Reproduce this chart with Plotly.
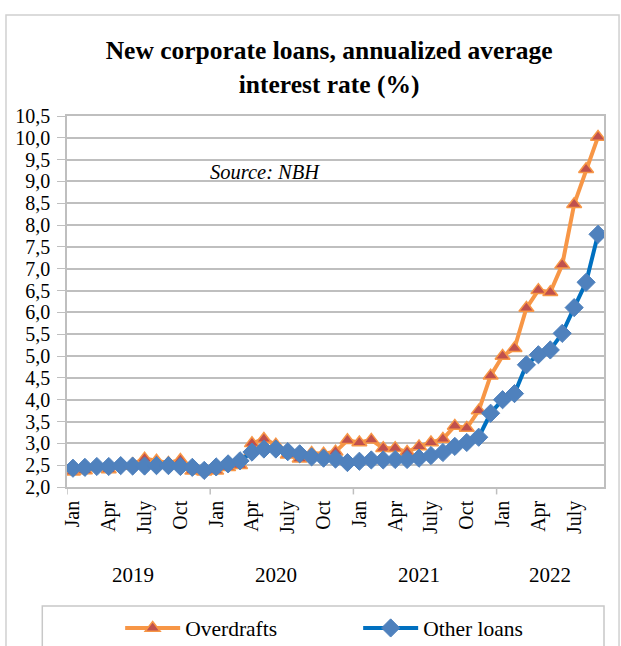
import plotly.graph_objects as go

# Monthly observations, Jan 2019 - Sep 2022
years = [2019, 2020, 2021, 2022]
month_names = ["Jan", "Feb", "Mar", "Apr", "May", "Jun",
               "Jul", "Aug", "Sep", "Oct", "Nov", "Dec"]
months_2022 = 9

overdrafts = [
    2.35, 2.38, 2.45, 2.40, 2.48, 2.52, 2.65, 2.60, 2.55, 2.62, 2.37, 2.35,
    2.37, 2.45, 2.50, 3.00, 3.10, 2.97, 2.74, 2.65, 2.78, 2.76, 2.81, 3.07,
    3.02, 3.08, 2.89, 2.89, 2.80, 2.93, 3.02, 3.10, 3.40, 3.35, 3.75, 4.55,
    5.00, 5.18, 6.10, 6.51, 6.46, 7.09, 8.48, 9.28, 10.02,
]
other_loans = [
    2.43, 2.45, 2.47, 2.47, 2.49, 2.48, 2.48, 2.49, 2.49, 2.47, 2.45, 2.38,
    2.46, 2.53, 2.60, 2.80, 2.87, 2.87, 2.81, 2.76, 2.69, 2.66, 2.64, 2.56,
    2.59, 2.62, 2.62, 2.63, 2.63, 2.66, 2.72, 2.79, 2.93, 3.02, 3.14, 3.69,
    4.00, 4.14, 4.80, 5.03, 5.14, 5.52, 6.11, 6.69, 7.79,
]

# Quarter-month labels shown on the axis
quarter_labels = {"Jan": "Jan", "Apr": "Apr", "Jul": "July", "Oct": "Oct"}

periods = []
for y in years:
    n = months_2022 if y == 2022 else 12
    for m in month_names[:n]:
        periods.append((y, m))
x_idx = list(range(len(periods)))

tickvals = [i for i, (_, m) in enumerate(periods) if m in quarter_labels]
ticktext = [quarter_labels[periods[i][1]] for i in tickvals]

FONT = "Liberation Serif, Times New Roman, serif"
ORANGE = "#F79646"
RED = "#C0504D"
BLUE_LINE = "#0070C0"
BLUE_MARK = "#4F81BD"
GRID = "#BFBFBF"

fig = go.Figure()
fig.add_trace(go.Scatter(
    x=x_idx, y=overdrafts, name="Overdrafts", mode="lines+markers",
    line=dict(color=ORANGE, width=4),
    marker=dict(symbol="triangle-up", size=13, color=RED,
                line=dict(color=ORANGE, width=1.5)),
))
fig.add_trace(go.Scatter(
    x=x_idx, y=other_loans, name="Other loans", mode="lines+markers",
    line=dict(color=BLUE_LINE, width=4),
    marker=dict(symbol="diamond", size=14, color=BLUE_MARK,
                line=dict(color=BLUE_MARK, width=1)),
))

# Year boundaries and year captions under the month labels
first_idx = {}
for i, (y, _) in enumerate(periods):
    first_idx.setdefault(y, i)
shapes = []
for y in years:
    b = first_idx[y] - 0.5
    shapes.append(dict(type="line", xref="x", yref="paper", x0=b, x1=b,
                       y0=0, y1=-0.02, line=dict(color=GRID, width=1.5)))
annotations = []
for y in years:
    idxs = [i for i, (yy, _) in enumerate(periods) if yy == y]
    centre = (idxs[0] + min(idxs[-1], idxs[0] + 10)) / 2
    annotations.append(dict(x=centre, y=-0.237, xref="x", yref="paper",
                            yanchor="middle", text=str(y), showarrow=False,
                            font=dict(family=FONT, size=21, color="#000000")))

annotations.append(dict(x=0.369, y=0.849, xref="paper", yref="paper",
                        yanchor="middle", text="<i>Source: NBH</i>",
                        showarrow=False,
                        font=dict(family=FONT, size=20.5, color="#000000")))

# Outer chart frame and legend frame
shapes.append(dict(type="rect", xref="paper", yref="paper",
                   x0=-0.1136, x1=1.028, y0=-0.5, y1=1.272,
                   line=dict(color="#D0D0D0", width=1.5), layer="below"))
shapes.append(dict(type="rect", xref="paper", yref="paper",
                   x0=-0.046, x1=1.0, y0=-0.5, y1=-0.321,
                   line=dict(color="#C8C8C8", width=1.5), layer="below"))

fig.update_layout(
    width=621, height=646,
    margin=dict(l=67, r=17, t=116, b=159, autoexpand=False),
    paper_bgcolor="white", plot_bgcolor="white",
    separators=",.",
    font=dict(family=FONT, size=20, color="#000000"),
    title=dict(text="<b>New corporate loans, annualized average<br>interest rate (%)</b>",
               x=0.53, xanchor="center", y=0.908, yanchor="middle",
               font=dict(family=FONT, size=25.5, color="#000000")),
    xaxis=dict(range=[-0.5, len(periods) - 0.5], tickvals=tickvals,
               ticktext=ticktext, tickangle=-90, ticks="", showgrid=False,
               showline=True, linecolor=GRID, linewidth=1.5, mirror=True,
               zeroline=False, ticklabelstandoff=4, automargin=False,
               tickfont=dict(family=FONT, size=20)),
    yaxis=dict(range=[2.0, 10.5], dtick=0.5, tickformat=".1f",
               showgrid=True, gridcolor=GRID, gridwidth=1.5,
               showline=True, linecolor=GRID, linewidth=1.5, mirror=True,
               ticks="outside", ticklen=8, tickcolor=GRID, zeroline=False,
               ticklabelstandoff=3, automargin=False,
               tickfont=dict(family=FONT, size=20)),
    legend=dict(orientation="h", x=0.099, xanchor="left", y=-0.38,
                yanchor="middle", entrywidth=168, itemwidth=55,
                font=dict(family=FONT, size=21.5), bgcolor="rgba(0,0,0,0)"),
    shapes=shapes,
    annotations=annotations,
)

fig.write_html("out.html")
